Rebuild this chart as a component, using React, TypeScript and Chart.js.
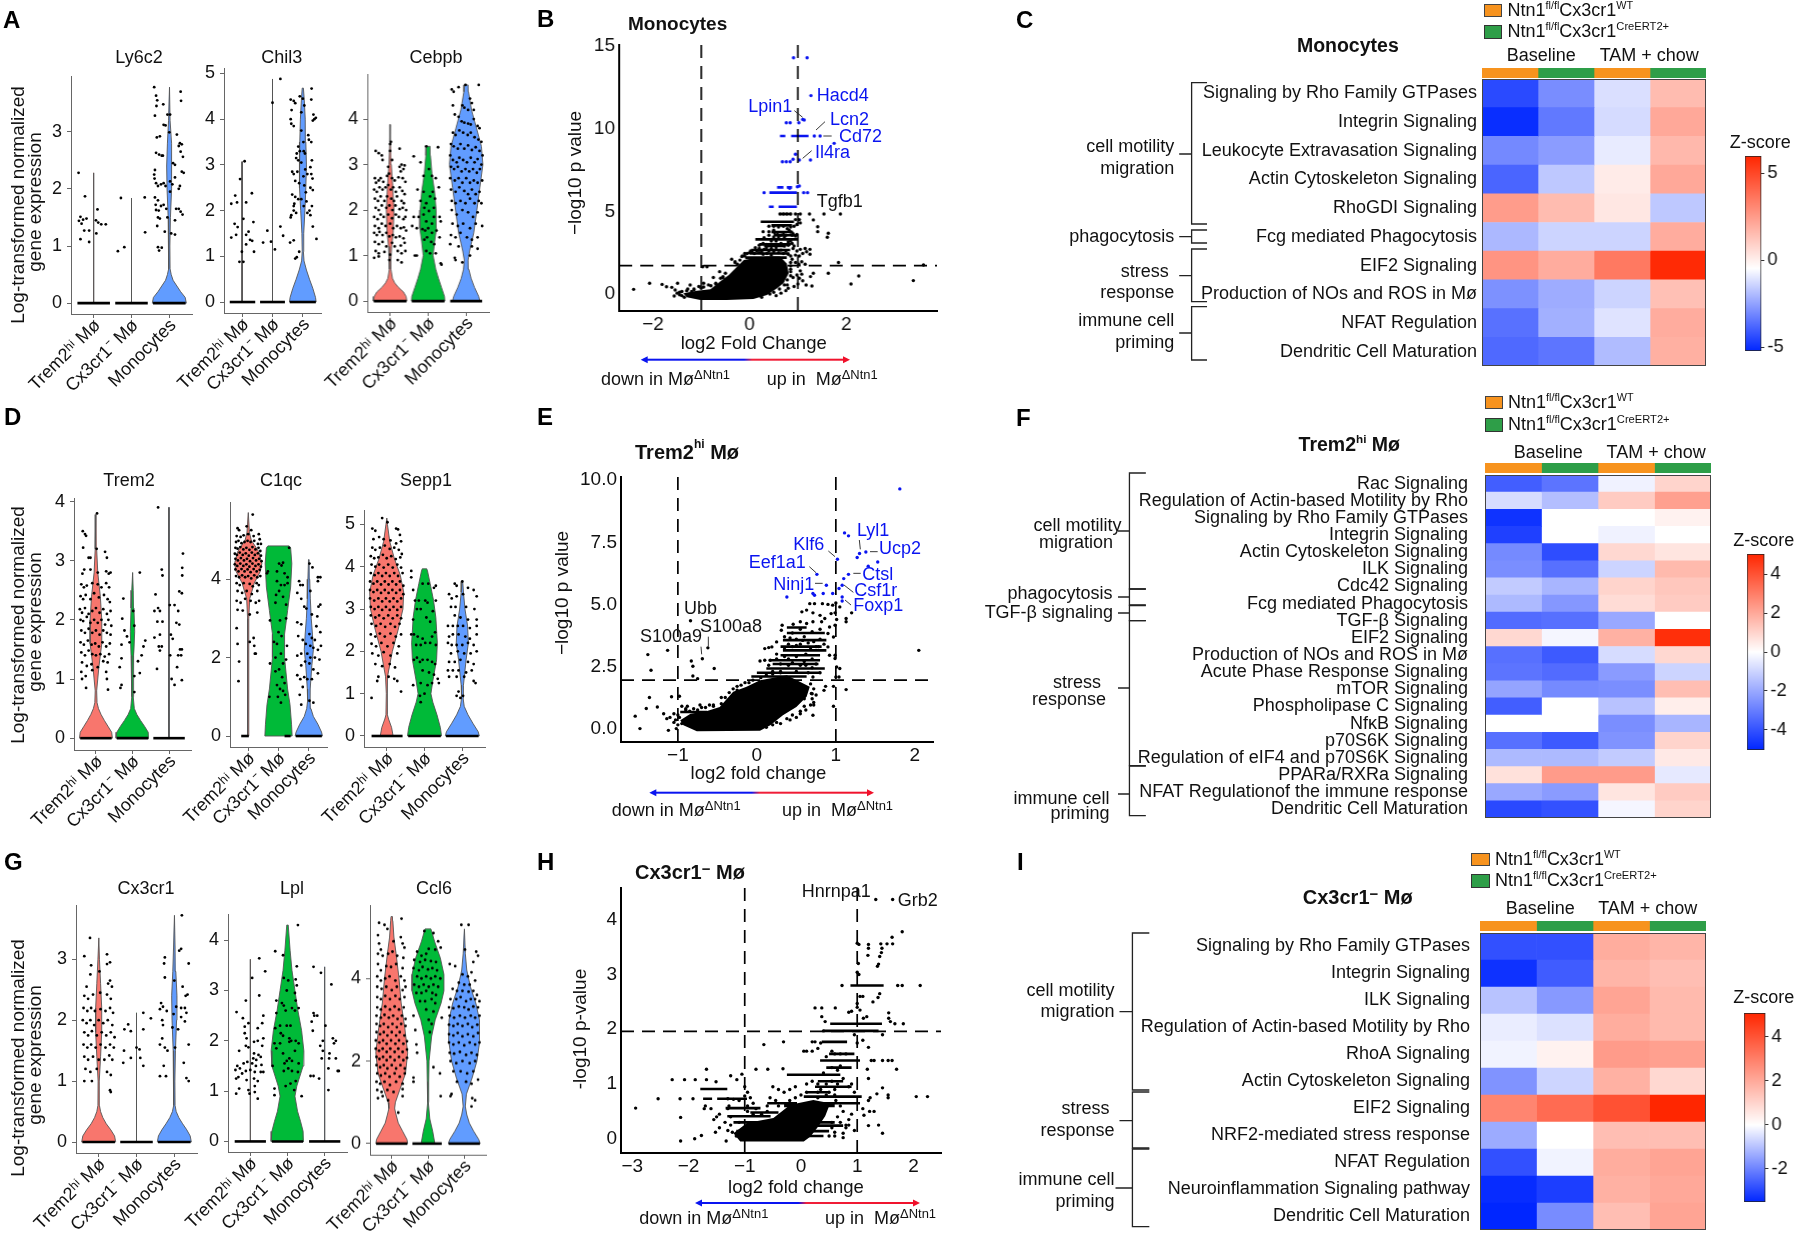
import React, { useEffect, useRef } from "react";
import { Chart, registerables } from "chart.js";
Chart.register(...registerables);

/* ---------- shared categories ---------- */
const violinGroups = ["Trem2ʰⁱ Mø", "Cx3cr1⁻ Mø", "Monocytes"];
const violinColors = ["#F8766D", "#00BA38", "#619CFF"];

/* ---------- violin outlines: y value, half width ---------- */
const ly6c2Spike1 = [0, .008, 2.28, .008];
const ly6c2Spike2 = [0, .008, 1.84, .008];
const ly6c2Mono = [0, .45, .1, .42, .2, .3, .3, .2, .4, .1, .5, .05, .6, .02, 1, .015, 1.5, .03, 2, .06, 2.4, .07, 2.8, .05, 3.2, .02, 3.78, .005];
const chil3Spike1 = [0, .008, 3.07, .008];
const chil3Spike2 = [0, .008, 4.88, .008];
const chil3Mono = [0, .44, .1, .42, .3, .33, .5, .22, .7, .12, .9, .04, 1.1, .02, 1.5, .03, 2, .07, 2.5, .1, 3, .12, 3.5, .1, 4, .08, 4.4, .05, 4.68, .02];
const cebpbT = [0, .44, .1, .42, .2, .35, .3, .22, .4, .12, .5, .06, .7, .02, .9, .02, 1.2, .04, 1.5, .08, 2, .1, 2.5, .07, 3, .03, 3.5, .01, 3.88, .005];
const cebpbC = [0, .44, .1, .43, .3, .35, .5, .27, .7, .2, 1, .13, 1.3, .17, 1.6, .22, 2, .21, 2.4, .17, 2.8, .1, 3.2, .06, 3.4, .05];
const cebpbM = [0, .36, .1, .33, .3, .22, .5, .13, .7, .07, .9, .05, 1.1, .09, 1.5, .2, 2, .28, 2.5, .36, 3, .44, 3.4, .4, 3.8, .27, 4.2, .14, 4.6, .06, 4.75, .05];
const trem2T = [0, .45, .1, .43, .2, .33, .3, .23, .4, .14, .5, .07, .6, .03, .8, .02, 1.2, .08, 1.6, .16, 2, .16, 2.4, .12, 2.8, .05, 3.2, .02, 3.78, .004];
const trem2C = [0, .45, .1, .43, .2, .33, .3, .22, .4, .12, .5, .05, .7, .02, 1, .02, 1.4, .04, 1.8, .06, 2.2, .04, 2.5, .02, 2.8, .004];
const trem2Spike = [0, .008, 3.9, .008];
const c1qcT = [0, .02, 3, .02, 3.5, .05, 3.9, .2, 4.2, .4, 4.4, .45, 4.7, .35, 5, .1, 5.2, .04, 5.7, .004];
const c1qcC = [0, .45, .3, .43, .8, .38, 1.2, .3, 2, .2, 2.6, .2, 3.2, .3, 3.8, .4, 4.4, .44, 4.8, .4, 4.85, .35];
const c1qcM = [0, .45, .1, .42, .3, .3, .5, .15, .7, .07, .9, .04, 1.2, .05, 1.8, .1, 2.2, .15, 2.6, .12, 3, .08, 3.5, .05, 4, .03, 4.5, .01];
const sepp1T = [0, .17, .2, .13, .4, .05, .5, .02, 1, .01, 1.4, .03, 2, .15, 2.5, .3, 3, .43, 3.4, .45, 3.8, .36, 4.2, .2, 4.6, .08, 5, .02, 5.15, .004];
const sepp1C = [0, .45, .2, .42, .5, .33, .8, .22, 1, .17, 1.3, .22, 1.8, .32, 2.2, .34, 2.8, .3, 3.2, .24, 3.6, .15, 3.9, .08, 3.95, .06];
const sepp1M = [0, .45, .1, .42, .3, .28, .5, .15, .7, .05, .9, .02, 1.2, .03, 1.8, .1, 2.2, .16, 2.6, .14, 3, .07, 3.4, .03, 3.65, .01];
const cx3T = [0, .45, .1, .42, .2, .32, .3, .2, .4, .11, .5, .05, .6, .02, 1, .015, 1.4, .05, 1.8, .08, 2.2, .08, 2.6, .05, 3, .02, 3.35, .004];
const cx3Spike = [0, .008, 2.12, .008];
const cx3M = [0, .45, .1, .42, .2, .33, .3, .22, .4, .12, .5, .05, .6, .02, 1, .015, 1.5, .03, 2, .06, 2.4, .07, 2.8, .04, 3.2, .02, 3.72, .004];
const lplSpike1 = [0, .008, 3.62, .008];
const lplC = [0, .44, .2, .42, .4, .35, .6, .27, .9, .2, 1.1, .25, 1.5, .42, 1.8, .44, 2.2, .38, 2.6, .28, 3, .2, 3.4, .12, 3.8, .07, 4.3, .02];
const lplSpike3 = [0, .008, 3.47, .008];
const ccl6T = [0, .44, .1, .42, .3, .3, .5, .18, .7, .12, .85, .08, 1, .1, 1.3, .22, 1.7, .38, 2.2, .44, 2.8, .36, 3.4, .26, 4, .2, 4.6, .12, 5, .06, 5.4, .03, 5.5, .02];
const ccl6C = [0, .19, .3, .13, .6, .05, 1, .01, 1.5, .02, 2, .03, 2.6, .1, 3, .2, 3.4, .36, 3.7, .44, 4.1, .44, 4.5, .34, 4.9, .18, 5.15, .1, 5.2, .08];
const ccl6M = [0, .44, .1, .4, .3, .26, .5, .14, .7, .07, .9, .03, 1.2, .06, 1.6, .22, 2, .35, 2.5, .43, 3, .42, 3.4, .32, 3.8, .17, 4.2, .07, 4.6, .03, 5.2, .005];

/* ---------- violin jitter dots: x offset from the category, value ---------- */
const ly6c2Dots1 = [-.4,2.28,-.23,1.87,-.35,1.51,-.28,1.46,-.39,1.44,-.19,1.48,-.32,1.39,-.35,1.12,-.25,1.27,-.12,1.27,-.12,1.07,.1,1.64,.06,1.45,.12,1.41,.2,1.38,.32,1.38,.07,1.22];
const ly6c2Dots2 = [-.28,1.84,.35,1.85,.36,1.24,-.36,.91,-.19,.98];
const ly6c2Dots3 = [-.4,3.78,-.35,3.63,-.32,3.55,-.34,3.45,.3,3.7,.31,3.54,-.16,3.48,-.38,3.28,-.05,3.3,.02,3.3,-.15,3.12,-.1,3.11,0,2.99,.2,2.95,.28,2.8,.33,2.78,-.25,2.92,-.33,2.9,.25,2.75,.3,2.65,.36,2.56,-.35,2.63,-.27,2.6,-.2,2.58,-.17,2.58,.1,2.45,.15,2.42,-.38,2.33,-.4,2.25,-.39,2.18,-.35,2.1,-.3,2.05,-.22,2.08,-.15,2.1,-.1,2.05,.02,2.13,.08,2.08,.15,2.2,.28,2.05,.25,2,.33,2.3,.38,2.28,-.38,1.85,-.3,1.8,-.35,1.63,-.28,1.62,-.22,1.7,-.15,1.72,-.08,1.65,-.05,1.5,.18,1.65,.25,1.65,.3,1.6,.35,1.55,.15,1.45,-.3,1.5,-.25,1.48,-.12,1.25,.15,1.2,-.3,.98,-.27,.92,-.2,.97,-.32,1.35,-.36,1.72,.02,1.95,.05,1.22];
const chil3Dots1 = [.08,3.08,-.07,2.69,-.23,2.33,-.36,2.15,-.17,2.18,.32,2.38,.13,2.18,-.25,1.71,-.15,1.64,.04,1.82,.37,1.75,.21,1.54,.13,1.47,-.36,1.41,-.2,1.47,.26,1.36,.33,1.34,.13,1.26,-.01,1.1,.39,1.1,-.09,.88,.04,.88];
const chil3Dots2 = [.26,4.88,0,4.36,-.17,1.56,-.31,1.3,-.05,1.32,.08,1.15,.26,1.65,.35,1.45];
const chil3Dots3 = [.29,4.67,.28,4.43,-.4,4.43,-.3,4.4,-.25,4.35,-.1,4.5,0,4.45,.05,4.3,-.37,4.2,-.05,4.15,.35,4.1,.38,4,.33,3.97,.43,4.03,-.4,4,-.38,3.9,-.3,3.85,-.05,3.75,.18,3.65,.2,3.55,.28,3.5,.02,3.5,-.15,3.4,-.2,3.25,-.1,3.3,.03,3.3,.07,3.25,.3,3.1,-.22,3.15,-.15,3.1,-.05,3.05,.25,2.95,.08,2.9,-.35,2.85,-.3,2.8,-.25,2.65,-.18,2.85,.02,2.75,.15,2.8,.28,2.8,.32,2.7,-.12,2.6,.05,2.55,.25,2.5,.33,2.45,-.35,2.35,-.25,2.3,-.15,2.25,-.28,2.15,-.3,2.1,.03,2.1,.22,2,.3,2.1,-.38,1.9,-.3,2,-.22,1.95,.33,1.65,.45,1.38,-.42,1.3,-.3,1.35,-.12,1.1,-.25,.95,-.2,.98,.1,2.4,-.05,2.25,.12,2.2,-.4,1.85,.15,1.95,.25,1.9];
const cebpbDots1 = [-.38,3.3,-.3,3.25,-.22,3.2,-.2,3.1,0,3.45,0,3.3,.02,3.5,.25,3.35,.3,3,.38,2.98,.35,2.9,.28,2.85,.25,2.95,.05,3.1,-.05,2.95,-.4,2.7,-.37,2.6,-.3,2.65,-.25,2.7,-.18,2.62,-.08,2.75,-.03,2.8,.05,2.7,.12,2.65,.22,2.72,.33,2.7,.4,2.62,-.42,2.45,-.35,2.4,-.28,2.5,-.2,2.45,-.12,2.5,-.05,2.55,.02,2.45,.08,2.5,.15,2.4,.25,2.5,.32,2.42,.38,2.35,-.4,2.25,-.32,2.2,-.25,2.3,-.15,2.2,-.08,2.3,.03,2.25,.1,2.2,.18,2.3,.3,2.2,.36,2.15,-.38,2.05,-.3,2,-.22,2.1,-.1,2.05,-.02,2.1,.06,2,.14,2.1,.25,2.02,.33,2.05,.42,2,-.42,1.85,-.33,1.8,-.25,1.9,-.17,1.85,-.05,1.9,.05,1.82,.15,1.9,.23,1.85,.35,1.8,.4,1.85,-.4,1.65,-.3,1.6,-.22,1.7,-.12,1.65,0,1.7,.08,1.6,.18,1.65,.28,1.6,.36,1.62,.42,1.55,-.42,1.5,-.35,1.45,-.28,1.52,-.2,1.45,-.1,1.5,-.02,1.42,.07,1.45,.15,1.4,.25,1.42,.35,1.38,-.4,1.3,-.3,1.25,-.2,1.3,-.1,1.2,.05,1.28,.12,1.2,.28,1.22,.38,1.28,-.38,1.1,-.3,1.05,-.15,1.08,0,1.02,.2,1.1,.3,1.05,.4,1.1,-.42,.95,-.3,.98,-.02,.9,.2,.9,.3,.85];
const cebpbDots2 = [-.38,3.18,-.05,3.4,.26,3.38,-.2,3.05,.02,2.9,-.12,2.75,.1,2.75,.2,2.7,.28,2.5,-.28,2.45,-.12,2.4,.12,2.4,.05,2.3,-.2,2.2,-.05,2.15,.18,2.25,.15,2.05,-.1,2.05,.02,1.98,-.38,1.85,-.25,1.85,-.12,1.9,.15,1.85,.3,1.85,.33,1.75,-.42,1.65,-.3,1.6,-.15,1.58,-.08,1.55,0,1.6,.1,1.5,.22,1.55,.3,1.4,-.1,1.35,-.03,1.4,.08,1.3,.16,1.25,.2,1.05,.05,1.05,-.05,1.1,-.3,1,-.35,1,.33,.83,.35,.8,.1,1.7,-.05,1.75];
const cebpbDots3 = [-.38,4.65,-.33,4.6,-.35,4.3,-.02,4.75,.33,4.75,.1,4.45,.15,4.35,-.2,4.7,-.1,4.3,-.05,4.25,.05,4.2,.2,4.2,-.3,4.1,-.2,4.05,-.12,3.95,-.05,3.92,.05,3.9,.12,3.88,.2,4,.3,3.85,.35,3.8,-.35,3.7,-.28,3.65,-.18,3.75,-.08,3.7,.04,3.65,.12,3.7,.22,3.6,.32,3.55,.4,3.5,-.4,3.45,-.33,3.4,-.22,3.35,-.15,3.45,-.05,3.35,.05,3.42,.15,3.32,.25,3.38,.35,3.3,.43,3.2,-.42,3.2,-.35,3.1,-.25,3.05,-.18,3.15,-.08,3.1,.02,3.05,.12,3.15,.22,3.05,.3,3.12,.4,3,-.4,2.95,-.32,2.9,-.22,2.95,-.12,2.85,-.02,2.9,.08,2.85,.18,2.9,.28,2.82,.36,2.9,-.42,2.7,-.3,2.65,-.2,2.7,-.1,2.6,0,2.7,.1,2.6,.2,2.65,.3,2.6,.42,2.65,-.4,2.45,-.28,2.4,-.18,2.5,-.05,2.42,.05,2.35,.15,2.45,.25,2.35,.35,2.4,-.38,2.2,-.28,2.15,-.15,2.2,-.02,2.15,.1,2.25,.22,2.15,.33,2.2,.4,2.15,-.38,2,-.25,1.9,-.1,2,.05,1.95,.18,1.85,.3,1.95,.42,1.65,-.36,1.7,-.22,1.65,-.08,1.7,.1,1.6,.25,1.7,-.4,1.45,-.28,1.4,-.15,1.5,.02,1.4,.15,1.35,.3,1.4,-.42,1.25,-.2,1.2,.15,1.2,.3,1.15,-.3,.95,-.28,.9,-.1,.85,.1,1];
const trem2Dots1 = [-.36,3.5,-.3,3.45,-.27,3.42,-.35,3.22,.25,3.15,.3,3.05,-.15,3.05,-.2,3.05,.03,3.8,.02,3.2,-.32,2.85,-.37,2.78,-.15,2.85,.05,2.8,.28,2.82,.35,2.78,.4,2.8,-.4,2.6,-.33,2.55,-.25,2.58,-.1,2.62,.05,2.6,.15,2.55,.28,2.62,.36,2.55,-.42,2.4,-.35,2.35,-.28,2.42,-.15,2.35,-.05,2.45,.08,2.38,.22,2.42,.32,2.35,.38,2.3,-.44,2.18,-.38,2.12,-.3,2.2,-.2,2.1,-.1,2.15,0,2.2,.1,2.12,.2,2.18,.3,2.1,.4,2.15,-.42,2,-.35,1.98,-.25,2.05,-.15,1.95,-.05,2,.05,1.95,.15,2,.25,1.92,.34,2,.42,1.9,-.4,1.82,-.3,1.78,-.2,1.85,-.1,1.78,0,1.82,.1,1.75,.2,1.82,.3,1.78,.4,1.75,-.42,1.62,-.33,1.58,-.22,1.65,-.12,1.58,-.02,1.6,.08,1.55,.18,1.62,.28,1.55,.38,1.6,-.4,1.45,-.3,1.4,-.2,1.48,-.1,1.42,0,1.4,.12,1.42,.24,1.38,.36,1.42,-.38,1.28,-.25,1.22,-.12,1.25,.05,1.2,.2,1.3,.32,1.28,-.4,1.12,-.28,1.05,-.1,1.15,.28,1.12,.3,1,.33,.82,-.27,.85,-.38,1];
const trem2Dots2 = [.2,2.8,-.25,2.36,-.28,2.02,-.22,1.82,-.15,1.72,-.3,1.58,-.08,1.62,.35,1.65,.3,1.55,.25,1.4,.02,2.15,.05,1.9,-.35,1.2,-.3,1.35,.15,1.3,.2,1.1,.05,1.05,-.33,.85,-.3,.9,.05,.78];
const trem2Dots3 = [-.3,3.9,-.2,2.85,-.18,2.75,.38,3.12,.36,2.88,.36,2.75,-.37,2.43,.35,2.45,.28,2.48,-.4,2.15,-.3,2.2,-.25,2.15,.02,2.25,.15,2.25,.25,2.15,-.32,1.97,-.18,1.97,.2,1.95,.28,1.92,-.4,1.7,-.25,1.75,.05,1.75,.1,1.68,.3,1.5,.35,1.5,-.28,1.55,-.2,1.55,-.25,1.48,.03,1.4,.25,1.4,.33,1.4,-.33,1.17,.22,1.2,.07,1,.15,.9,.35,.98];
const c1qcDots1 = [.15,5.65,-.35,5.3,-.3,5.25,-.05,5.35,.1,5.25,-.38,5.1,-.25,5.08,-.15,5.12,0,5.15,.18,5.1,.35,5.15,.38,5.02,-.4,4.95,-.32,4.98,-.22,4.92,-.12,4.95,-.02,4.98,.08,4.95,.2,4.98,.32,4.9,.42,4.9,-.42,4.8,-.35,4.78,-.26,4.82,-.16,4.76,-.06,4.8,.04,4.75,.14,4.82,.24,4.76,.34,4.8,.4,4.72,-.44,4.65,-.37,4.62,-.28,4.68,-.18,4.62,-.08,4.66,.02,4.6,.12,4.68,.22,4.62,.32,4.66,.42,4.6,-.42,4.52,-.34,4.48,-.24,4.54,-.14,4.48,-.04,4.52,.06,4.46,.16,4.54,.26,4.48,.36,4.52,.44,4.46,-.44,4.38,-.36,4.34,-.26,4.4,-.16,4.34,-.06,4.38,.04,4.32,.14,4.4,.24,4.34,.34,4.38,.42,4.32,-.42,4.25,-.32,4.2,-.22,4.26,-.12,4.2,-.02,4.25,.08,4.18,.18,4.26,.28,4.2,.38,4.24,-.4,4.08,-.3,4.05,-.2,4.1,-.1,4.05,0,4.08,.1,4.02,.2,4.1,.3,4.05,.4,4.08,-.38,3.9,-.28,3.85,-.15,3.9,.05,3.88,.15,3.82,.28,3.9,.35,3.85,-.35,3.7,-.2,3.65,-.05,3.7,.12,3.62,.3,3.7,-.38,3.45,-.25,3.4,-.1,3.5,.08,3.45,.25,3.4,.36,3.45,-.35,3.22,-.18,3.2,.05,3.1,.3,3.15,-.38,2.75,.18,2.5,.05,2.4,.2,2.3,-.35,2.35,-.3,1.9,.22,2.1,.25,2.1,-.32,1.4];
const c1qcDots2 = [.35,4.8,.02,4.4,.1,4.35,.15,4.42,-.35,4.2,-.38,4.15,-.05,4.2,.2,4.15,.3,4.05,-.05,3.95,.08,3.85,.2,3.85,.3,3.9,-.08,3.6,.02,3.7,.15,3.55,-.1,3.4,.25,3.35,-.28,2.95,.05,2.95,.25,3,0,2.65,.1,2.55,-.05,2.35,-.15,2.4,.28,2.3,.08,2.1,-.1,2,.25,1.95,.15,1.85,-.28,1.85,.02,1.7,-.1,1.65,.12,1.5,.2,1.35,-.05,1.3,.05,1.2,.15,1.15,.22,1.05,-.02,1,-.3,1,.08,.85];
const c1qcDots3 = [.02,4.4,.12,4.3,.3,4.05,.38,4.05,.3,3.95,-.32,3.95,-.28,3.85,-.2,3.85,-.38,3.65,.05,3.7,.38,3.35,.32,3.3,-.25,3.5,-.15,3.3,-.08,3.25,.1,3.1,.28,3.05,-.38,2.9,-.25,2.85,.25,2.8,.38,2.65,.02,2.6,.1,2.5,.2,2.45,-.35,2.55,-.2,2.45,-.1,2.35,.05,2.3,.15,2.25,.3,2.2,.4,2.3,-.38,2.05,-.25,2.1,-.05,2.1,.05,2,.2,2,.35,1.95,-.12,1.9,-.25,1.8,.02,1.85,.15,1.7,.3,1.6,-.38,1.55,-.28,1.45,-.15,1.5,-.05,1.45,.1,1.45,-.3,1.05,-.2,1.25,.02,.9,-.25,.8,.15,.85];
const sepp1Dots1 = [-.12,5.15,.02,5.05,-.38,4.9,-.3,4.85,.25,4.9,.3,4.88,.35,4.75,-.35,4.65,-.2,4.7,-.08,4.65,.1,4.62,.25,4.55,.38,4.6,-.38,4.45,-.3,4.4,-.18,4.45,-.05,4.5,.08,4.42,.2,4.45,.32,4.4,.4,4.3,-.42,4.25,-.33,4.2,-.22,4.22,-.1,4.28,0,4.2,.12,4.25,.24,4.18,.36,4.22,-.4,4.05,-.3,4,-.2,4.05,-.08,3.98,.04,4.05,.16,3.98,.28,4.05,.38,3.98,-.42,3.85,-.32,3.8,-.22,3.85,-.12,3.78,-.02,3.85,.08,3.78,.2,3.85,.3,3.78,.42,3.85,-.44,3.65,-.35,3.6,-.25,3.65,-.15,3.58,-.05,3.65,.05,3.58,.15,3.65,.25,3.58,.35,3.65,.44,3.55,-.44,3.45,-.35,3.4,-.25,3.45,-.15,3.38,-.05,3.45,.05,3.38,.15,3.45,.25,3.38,.35,3.45,.44,3.35,-.44,3.25,-.33,3.2,-.22,3.25,-.12,3.18,-.02,3.25,.08,3.18,.18,3.25,.28,3.18,.38,3.25,-.42,3.05,-.32,3,-.22,3.05,-.12,2.98,-.02,3.05,.08,2.98,.18,3.05,.28,2.98,.38,3.05,-.42,2.85,-.3,2.8,-.2,2.85,-.08,2.78,.04,2.85,.16,2.78,.28,2.85,.38,2.78,-.4,2.65,-.28,2.6,-.16,2.65,-.04,2.58,.1,2.65,.22,2.58,.34,2.65,-.42,2.4,-.3,2.35,-.18,2.42,-.05,2.35,.1,2.42,.24,2.35,.38,2.4,-.4,2.18,-.28,2.12,-.14,2.2,.02,2.12,.18,2.2,.32,2.12,-.38,1.95,-.22,1.9,-.08,1.98,.1,1.9,.28,1.95,-.3,1.7,-.12,1.65,.08,1.7,.22,1.62,-.22,1.4,.2,1.35,.05,1.4,-.25,1.3,.28,1.3,.38,1.05,-.4,.9];
const sepp1Dots2 = [-.35,3.9,-.35,3.75,-.3,3.45,-.05,3.6,.1,3.6,.25,3.5,.3,3.55,-.25,3.2,-.15,3.2,.02,3.2,.08,3.15,.3,3.2,-.2,3,-.1,3,.22,2.95,-.3,2.75,.05,2.8,.15,2.7,-.35,2.4,-.28,2.4,-.18,2.35,-.05,2.3,.2,2.35,.28,2.45,-.22,2.15,-.1,2.15,.02,2.2,.15,2.2,.3,2.15,-.28,1.8,-.2,1.85,-.12,1.75,-.05,1.8,.08,1.8,.2,1.75,.28,1.7,-.05,1.55,.12,1.5,.25,1.45,-.3,1.2,-.1,1.25,.08,1.2,.2,1.25,.35,1.35,.38,1.25,-.12,.95,-.1,.8,0,1];
const sepp1Dots3 = [-.2,3.6,-.15,3.55,0,3.65,.15,3.5,.3,3.45,-.35,3.35,-.28,3.25,-.15,3.3,.02,3.35,.38,3.3,-.3,3.05,-.18,3.05,.1,3.05,.32,3,-.2,2.85,-.05,2.8,.15,2.75,.38,2.75,-.38,2.6,-.25,2.6,-.12,2.6,.02,2.6,.2,2.55,.38,2.6,-.35,2.35,-.25,2.4,-.1,2.4,.08,2.35,.2,2.3,.38,2.4,-.38,2.2,-.28,2.15,-.15,2.15,0,2.15,.15,2.2,.3,2.15,-.3,1.95,-.12,2,.05,1.95,.22,1.95,.38,2,-.35,1.75,-.2,1.75,-.05,1.8,.15,1.75,.3,1.7,-.38,1.55,-.25,1.55,-.1,1.55,.1,1.5,.25,1.55,-.35,1.4,-.15,1.4,.05,1.4,.3,1.3,.35,1.25,-.1,1.05,-.15,.95,.02,.95,-.05,.9];
const cx3Dots1 = [-.23,3.35,-.38,3.05,.22,3.08,.3,2.95,.22,2.92,-.2,2.9,-.22,2.75,-.32,2.55,.02,2.8,.3,2.65,.25,2.6,.35,2.55,-.38,2.4,-.28,2.35,-.15,2.42,.04,2.45,.22,2.42,.32,2.35,-.4,2.2,-.3,2.15,-.2,2.2,-.1,2.15,.05,2.18,.18,2.15,.3,2.2,.38,2.12,-.42,2,-.32,1.95,-.22,2,-.12,1.92,0,2,.12,1.95,.24,2,.36,1.92,-.38,1.8,-.28,1.75,-.18,1.82,-.05,1.75,.08,1.8,.2,1.75,.32,1.8,.42,1.72,-.4,1.6,-.3,1.55,-.2,1.6,-.08,1.55,.05,1.6,.18,1.55,.3,1.6,.4,1.55,-.38,1.4,-.28,1.35,-.15,1.4,0,1.35,.15,1.35,.28,1.42,.36,1.35,-.35,1.2,-.22,1.15,-.05,1.2,.22,1.15,.32,1.1,-.38,1,-.18,1,.3,.85,.32,.82];
const cx3Dots2 = [-.32,1.85,-.22,1.93,-.15,1.82,.18,2.12,.38,2.03,.18,1.85,0,1.55,.08,1.52,.1,1.38,-.33,1.5,-.35,1.3,-.15,1.38,.18,1.25];
const cx3Dots3 = [.2,3.72,.18,3.17,.13,3.14,-.25,3.03,-.27,2.93,.38,2.93,-.25,2.7,0,2.65,.22,2.55,.3,2.4,.35,2.42,-.35,2.28,-.3,2.22,-.38,2.18,-.2,2.15,.05,2.22,.18,2.2,.28,2.2,.32,2.12,-.32,2,-.3,1.92,-.02,2.1,.18,2.05,.28,1.98,.38,1.6,-.32,1.7,-.05,1.88,.1,1.85,-.38,1.6,-.25,1.55,-.18,1.5,-.28,1.25,-.38,1.08,-.22,1.08,.32,1.05,.38,1,.25,1.3,.02,1.55];
const lplDots1 = [.24,3.64,.05,3.25,.4,3.38,-.12,2.8,.24,2.9,-.37,2.57,-.2,2.45,.35,2.5,.32,2.35,-.05,2.35,-.15,2.28,.2,2.25,-.15,2.15,-.1,2.05,.35,2.05,.1,1.98,.2,2,-.12,1.9,-.05,1.87,.32,1.9,.1,1.75,.22,1.72,-.3,1.8,.08,1.65,.16,1.62,.28,1.68,-.35,1.5,-.28,1.45,-.18,1.55,-.08,1.58,.05,1.55,.15,1.5,.3,1.52,-.4,1.42,-.32,1.28,-.22,1.35,-.12,1.4,0,1.42,.12,1.38,.28,1.38,.35,1.38,-.38,1.25,-.1,1.22,.1,1.25,.2,1.2,-.38,.95,-.3,1.05,-.05,1.02,-.02,.95,.12,.98,.2,.85,.12,1.1];
const lplDots2 = [.28,4.3,-.33,3.78,-.12,3.7,.25,3.48,-.1,3.25,.02,3.2,.22,3.22,.25,3.1,-.02,3,.2,2.95,.22,2.8,-.3,2.8,-.15,2.75,-.1,2.7,.12,2.65,.3,2.65,-.3,2.55,-.05,2.6,.2,2.6,-.33,2.25,-.2,2.3,-.02,2.3,.08,2.3,-.18,2.15,-.12,2.1,.05,2.05,.22,2,.1,2,-.35,1.95,-.2,1.95,.05,1.98,.3,1.95,-.3,1.85,-.12,1.75,.05,1.65,.2,1.8,.12,1.6,-.08,1.55,-.02,1.6,.3,1.55,-.4,1.5,-.1,1.4,.02,1.45,.12,1.4,.22,1.2,.28,1.38,-.35,1.05,-.05,1.1,.08,1.15,.18,1.02,.38,.9,-.35,.92];
const lplDots3 = [-.3,3.47,-.1,3.35,.18,3.12,-.3,2.55,-.35,2.38,-.28,2.5,-.32,2.2,.02,2.3,-.2,2.5,.22,2.05,.3,2,.25,1.95,-.05,2,-.12,1.9,-.05,1.8,.13,1.75,.3,1.65,-.08,1.65,.12,1.65,-.15,1.25,-.3,1.3,-.38,1.3,.38,1.4,.35,1.4,.1,1.45,.1,1.02];
const ccl6Dots1 = [-.35,5.35,-.2,5.3,.27,5.45,-.12,5.2,.25,5,.3,4.85,-.38,5.05,-.35,4.85,-.3,4.7,.05,4.9,.35,4.75,-.38,4.6,-.25,4.55,-.1,4.6,.02,4.65,.15,4.55,.32,4.5,-.38,4.35,-.3,4.2,-.15,4.3,-.02,4.28,.12,4.35,.3,4.25,-.4,4.05,-.3,3.95,-.18,4,-.06,4.05,.1,3.95,.25,4.05,.35,3.95,-.4,3.8,-.28,3.75,-.15,3.8,0,3.72,.14,3.8,.3,3.72,.38,3.8,-.4,3.55,-.3,3.5,-.18,3.58,-.05,3.5,.1,3.58,.22,3.5,.35,3.55,-.4,3.3,-.3,3.25,-.18,3.32,-.05,3.25,.08,3.32,.2,3.25,.33,3.3,-.42,3.1,-.3,3.05,-.2,3.12,-.08,3.05,.04,3.1,.16,3.02,.28,3.1,.38,3.02,-.42,2.9,-.32,2.85,-.22,2.9,-.1,2.82,.02,2.9,.14,2.82,.26,2.9,.38,2.85,-.42,2.7,-.32,2.65,-.22,2.7,-.12,2.62,0,2.7,.12,2.62,.22,2.7,.35,2.62,-.44,2.5,-.34,2.45,-.24,2.5,-.14,2.42,-.02,2.5,.1,2.42,.2,2.5,.32,2.42,.42,2.48,-.44,2.3,-.35,2.25,-.25,2.3,-.14,2.22,-.04,2.3,.08,2.22,.18,2.3,.3,2.22,.42,2.28,-.42,2.1,-.34,2.05,-.24,2.1,-.14,2.02,-.04,2.1,.08,2.02,.2,2.1,.32,2.02,.42,2.08,-.42,1.9,-.32,1.85,-.22,1.9,-.12,1.82,0,1.9,.12,1.82,.24,1.9,.36,1.82,-.4,1.7,-.3,1.65,-.18,1.7,-.06,1.62,.08,1.7,.22,1.62,.36,1.7,-.42,1.5,-.32,1.45,-.2,1.5,-.05,1.42,.12,1.5,.3,1.45,-.4,1.3,-.28,1.25,-.12,1.3,.05,1.25,.3,1.32,-.38,1.1,-.25,1.15,-.1,1.05,.3,1.15,.18,.75];
const ccl6Dots2 = [-.1,5.15,.15,5.1,.28,4.9,-.3,4.65,-.18,4.55,-.05,4.6,.02,4.72,.2,4.7,.35,4.75,-.38,4.45,-.22,4.4,-.08,4.45,.08,4.42,.22,4.4,-.4,4.25,-.25,4.2,-.15,4.28,0,4.22,.12,4.25,.25,4.2,-.3,4.05,-.18,4,-.05,4.05,.08,4,.2,4.05,.34,4,-.38,3.85,-.25,3.8,-.12,3.85,.02,3.8,.15,3.85,.28,3.8,-.32,3.65,-.18,3.65,-.05,3.7,.12,3.65,.22,3.6,-.22,3.45,-.08,3.45,.1,3.5,.2,3.4,-.05,3.25,.15,3.2,-.4,3.1,.38,3.05,.02,3,.1,2.9,-.35,2.75,.05,2.7,-.32,2.4,-.3,2.2,.15,1.85,.33,1.7,-.4,1.6,-.4,1.5,.35,1.15];
const ccl6Dots3 = [-.08,5.3,.12,5.3,.02,4.7,.33,4.65,.38,4.55,-.4,4.35,-.25,4.3,.25,4.4,-.05,4.1,.1,4.05,.2,4.15,-.15,3.9,0,3.85,.15,3.85,.3,3.95,-.32,3.75,-.2,3.7,-.05,3.7,.12,3.68,.25,3.7,.35,3.6,-.38,3.5,-.22,3.5,-.1,3.55,.05,3.45,.18,3.5,.3,3.5,.42,3.45,-.42,3.3,-.3,3.28,-.15,3.32,0,3.3,.12,3.25,.25,3.32,.38,3.3,-.4,3.1,-.28,3.05,-.12,3.1,.02,3.05,.18,3.1,.3,3.05,.42,3.1,-.42,2.88,-.3,2.85,-.18,2.9,-.05,2.85,.1,2.9,.22,2.82,.36,2.88,-.42,2.65,-.3,2.62,-.18,2.68,-.05,2.6,.1,2.65,.25,2.6,.38,2.68,-.42,2.45,-.3,2.4,-.15,2.45,0,2.38,.15,2.45,.3,2.4,.42,2.45,-.4,2.2,-.28,2.18,-.12,2.22,.05,2.15,.2,2.2,.35,2.15,-.38,2,-.22,1.95,-.05,2,.15,1.95,.3,2,-.3,1.75,-.1,1.75,.08,1.7,.25,1.75,-.2,1.5,.05,1.5,.2,1.45,.38,1.55,-.35,1.2,-.38,1.15,.22,1.1,.3,1.05,.2,.9];

/* zero-expression runs: first and last x offset per category */
const ly6c2Zero = [-.43, .43, -.43, .43, -.43, .43];
const chil3Zero = [-.41, .43, -.41, .41, -.43, .43];
const cebpbZero = [-.43, .43, -.43, .43, -.42, .42];
const trem2Zero = [-.43, .43, -.43, .43, -.43, .43];
const c1qcZero = [-.23, .02, .2, .4, -.43, .43];
const sepp1Zero = [-.4, .42, -.43, .43, -.43, .43];
const cx3Zero = [-.43, .43, -.43, .43, -.43, .43];
const lplZero = [-.42, .42, -.42, .42, -.42, .42];
const ccl6Zero = [-.43, .43, -.43, .38, -.43, .43];

/* ---------- volcano data ---------- */
const monoBlue = [.91,14.29,1.19,14.29,1.27,12,1.1,10.56,1.13,10.52,1.02,10.36,.76,10.36,.84,10.36,1.34,9.56,1.46,9.56,1.75,9.11,.95,8.45,.9,8.15,1.03,8.1,1.26,8.1,.68,8,.76,8,.84,8,.99,6.49,1.03,6.53,.3,6.13,1.12,6.13,1.2,6.13,.83,6.39];
const monoBlueRuns = [9.56,.63,.74,9.56,.86,1.22,6.13,.41,.98,6.45,.57,.7,6.45,.77,.88,5.28,.4,.5,5.28,.6,.98];
const monoBlack = [1.24,4.84,1.54,4.84,1.88,4.84,1.32,4.48,1.41,4.07,1.41,3.77,1.63,3.67,1.61,3.43,1.84,1.9,3.6,1.75,1.63,1.25,2.26,1.09,2.1,.6,3.39,.81,1.32,1.25,1.26,1.05,1.17,.54,1.29,.48,-2.4,.28,-2.07,.65,-1.81,.58,-1.72,.44,-1.61,.4,-1.54,.24,-1.56,-.12,-1.49,.65,-1.23,.54,-.95,.65,-.62,1.35,-.97,1.65,-.88,1.65,-.37,2.1,-.16,2.26,.63,4.84,.7,4.84,.77,4.84,.85,4.84,.95,4.84,1.05,4.84,.95,4.5,1.03,4.5,1.05,4.3,.98,4.2,.28,3.77,.4,3.77,.5,3.85,.52,3.7,.58,3.6,.82,3.85,.85,3.75,.9,3.65,.88,3.55,.95,3.5,.98,3.6,.5,3.45,.72,3.45,.35,3,.42,2.95,.5,3,.55,2.85,.65,3.05,.72,2.9,.8,2.95,.88,3.05,.92,2.9,.9,2.75,.98,2.6,1.05,2.7,1.15,2.75,1.25,2.7,1.18,2.55,1.1,2.45,1.25,2.4,1.03,2.3,.95,2.35,.2,2.5,.28,2.4,.36,2.45,.45,2.35,.85,1.7,.95,1.9,1.02,1.8,1.08,1.95,1.15,1.8,1.05,1.4,1.08,1.2,.98,1.15,.9,1,1.03,.95,1.1,.8,1,.6,.92,.45,.8,.35,.75,.2,.65,.05,.55,-.1,.68,.75,.78,.55,.85,1.35,-.75,1,-.55,1,-.7,.65,-.85,.55,-1.05,.45,-1.15,.3,-1.2,.15,-1.28,.3,-1.4,.15,-1.45,-.05,-1.35,-.2,-.3,1.95,-.2,2.05,-.1,2.3,-.05,2.45,.02,2.6];
const monoFringe = [-.3,1.9,-.25,1.8,-.15,2.3,-.1,2.45,0,2.5,.05,2.55,.1,2.45,.15,2.6,.2,2.75,.25,2.55,.3,2.7,.35,2.8,.4,2.6,.45,2.75,.5,2.55,.55,2.7,.6,2.5,.65,2.65,.7,2.45,.75,2.6,.8,2.4,.85,2.3,.88,2.1,.85,1.9,.85,1.5,.85,1.1,.78,.85,.72,.55,.62,.3,.5,.1,.42,0,.25,-.2,.3,3.4,.4,3.55,.45,3.2,.55,3.2,.6,3.45,.65,3.55,.7,3.7,.75,3.55,.8,3.15,.85,3.2,.6,4.05,.7,4.1,.78,3.95,.85,4.05,.92,4.1,.4,4.1,.5,4.1,.28,3.05,.2,2.95,.12,2.8,-.5,1.25,-.55,1.05,-.6,.95,-.7,.6,-.8,.5,-.95,.42,-1,.35,-1.15,.25,-1.3,.2,-1.45,.1,-1.4,-.1,-1.5,.05];
const monoBlackRuns = [4.37,.23,.92,4.84,.63,.87,3.3,.12,1.01,2.66,.03,.84,2.2,-.09,.77,3,.2,.85,2.9,.3,.75,3.75,.45,.9,4.15,.45,.88,2.45,0,.82,3.55,.5,.95];
const monoCloud = [-1.37,.04,-1.09,.2,-.81,.28,-.61,.75,-.43,1.15,-.26,1.65,-.12,2.06,.08,2.16,.36,2.26,.63,2.26,.77,1.85,.81,1.25,.7,.65,.57,.34,.36,-.06,.08,-.3,-.47,-.36,-1.02,-.36,-1.3,-.2];

const trem2Blue = [1.81,9.65,1.11,7.88,1.16,7.76,1.27,6.89,1.3,7.05,1.38,7.11,1.53,6.71,1.41,6.54,1.02,6.82,.76,6.21,1.16,6.21,1.1,6.04,.88,5.77,1.08,5.77,1.04,5.64,.71,5.44,.73,5.37,.84,5.44,.96,5.44,.38,5.3,1.08,5.3,1.08,5.14];
const trem2Black = [-.84,4.34,-1.13,3.15,-1.38,2.98,-1.34,2.35,-.62,3.25,-.69,2.81,-.83,2.72,-.81,2.51,-.54,2.42,-.81,2.12,-.75,2.01,2.05,3.15,1.13,1.57,.97,1.7,.85,1.54,.87,1.7,.97,.9,.71,.54,-1.36,1.25,-1.08,1.28,-.98,1.3,-1.4,.81,-1.26,.87,-1.54,.5,-1.48,0,-1.12,-.07,-1.18,.6,-1.14,.4,-1.02,0,.69,1.41,.67,5.03,.73,5.03,.63,4.77,.57,4.7,.71,4.66,.83,5.03,.9,5,.96,4.97,1,5.06,1.05,4.9,.99,4.66,.94,4.63,.8,4.56,.86,4.43,.82,4.3,.71,4.3,.63,4.23,.55,4.3,.46,4.2,.32,4.16,.31,3.96,1.13,4.43,1.13,4.3,1.2,4.66,1.01,4.39,.99,4.16,.92,4.09,.97,3.69,.9,3.83,.25,3.49,.19,3.29,.1,3.22,.15,3.26,.9,3.29,.99,2.95,.92,2.95,.99,2.82,.04,2.72,.1,2.75,.17,2.75,1.01,2.48,1.05,2.42,1,2.08,1.04,2.08,.71,2.08,.25,3,.35,3.2,.45,3.3,.55,3.4,.4,2.8,.5,2.9,.62,3,.7,2.8,.75,2.6,.6,2.7,.3,2.6,.4,2.55,.55,2.55,.7,2.45,.2,2.3,.3,2.25,.5,2.3,.65,2.25,.8,2.25,.75,3.3,.8,3.6,.6,3.7,.5,3.6,.7,3.9,.8,4,.55,4,.42,3.65,.4,3.4,.55,1.5,.6,1.2,.7,1.4,.72,1.05,.62,.75,.55,.6,.5,.45,.42,.35,.3,.2,.2,.15,.72,.95,-.95,.9,-.9,.8,-.85,.7,-.7,.85,-.6,.95,-.55,.9,-.45,1.25,-.35,1.45,-.25,1.7,-.15,1.85,-1.05,.6,-1.03,.35,-1,.15,-1.1,.45];
const trem2Fringe = [-.9,.75,-.8,.8,-.75,.75,-.65,.85,-.55,.95,-.45,1,-.4,1.25,-.3,1.6,-.25,1.55,-.2,1.75,-.1,1.85,-.05,1.95,.05,2.05,.12,2.15,.2,2.2,.3,2.3,.68,1.8,.72,1.6,.75,1.35,.7,1.2,.68,.95,.6,.9,.55,.7,.45,.55,.38,.4,.25,.25,.12,.05,-.95,.2,-.98,.45,-1,.55,-1.05,.25,-.88,.9,-.72,.95,.35,3.7,.45,3.85,.5,3.35,.58,3.55,.65,3.45,.72,3.5,.78,3.3,.85,3.4,.68,3.2,.35,2.9,.45,2.65,.62,2.55,.15,2.55,.25,2.8];
const trem2Runs = [4.07,.38,.63,3.85,.38,.86,3.56,.33,.88,3.15,.33,.88,2.42,.12,.86,2.1,-.07,.63,.67,-.97,-.63,3.3,.3,.82,2.75,.15,.8,2.25,0,.8,2.6,.2,.78,2.95,.3,.8];
const trem2Cloud = [-.97,.34,-.84,.6,-.63,.71,-.47,.87,-.3,1.48,-.13,1.68,.04,1.95,.21,2.05,.38,2.15,.55,1.88,.67,1.68,.63,1.28,.5,.87,.33,.54,.17,.13,.04,-.09,-.76,-.11,-.93,.13];

const cx3Black = [-2.94,.56,-2.54,.73,-2.15,.73,-1.92,.73,-2.29,1.08,-2.07,1.08,-1.88,1.08,-1.68,1.08,-1.68,1.27,-1.51,1.04,-1.25,1.15,-1.14,1.08,-1.05,1.18,-.8,1.27,-.59,1.27,-.32,1.28,-.66,1.72,-.31,1.77,-2.14,.39,-2.14,-.04,-1.89,0,-1.77,.06,-1.52,.12,-1.33,-.04,1.33,4.37,1.63,4.37,1.8,3.78,1.62,3.68,1.63,3.56,1.53,3.56,1.42,3.56,1.44,3.48,1.43,3.4,1.4,3.33,1.38,3.19,1.36,3.15,1.2,3.55,1.2,3.48,1.19,3.35,1,3.57,1.03,3.55,1.02,3.2,1,3.04,1.03,3,.73,2.8,1.72,2.8,1.8,2.8,2.12,2.8,1.05,2.6,1.1,2.6,1.4,2.65,1.37,2.58,1.28,2.5,1,2.47,1,2.4,1.05,2.35,.25,2.39,.37,2.39,.61,2.39,.85,2.31,.9,2.33,1.11,2.2,1.17,2.23,1.56,2.3,1.56,2.2,1.59,2.14,1.67,2.1,1.82,2.1,.37,2.23,.43,2.14,.4,1.97,.95,1.9,1.45,1.9,.55,1.6,.6,1.55,.7,1.55,.8,1.55,.05,1.6,.1,1.6,.2,1.6,.3,1.65,.35,1.75,.2,1.77,.25,1.77,.45,1.5,1.2,1.67,1.1,1.8,1,1.75,1.25,1.43,1.3,1.43,1.45,1.43,1.55,1.43,1.62,1.43,1.7,1.27,1.18,1.27,1.2,1.1,1.45,.93,1.35,.82,1.55,.8,1.55,.75,2.05,.77,2.25,.77,1.23,.75,1.2,.7,1.1,.55,1.22,.5,1.12,.43,1.3,.5,1.38,.25,1.45,.1,1.2,.24,.9,.45,.85,.35,.8,.2,.75,.1,.6,.05,.75,.02,.8,.25,.55,.3,.1,1,.2,1.05,.3,1,.35,.9,.45,1,.55,1.05,.6,.9,.65,1,.75,1.1,.85,.95,.9,1,.95,.85,.4,1.2,.55,1.3,.65,1.25,.7,1.33,.5,.85,.6,.8,.3,.85,-.1,.95,-.2,.9,-.3,.85,-.4,.9,-.5,.95,-.45,.7,-.55,.75,-.6,.6,-1,.95,-.95,.85,-1,.78,-.9,.75,-.85,.65,-.95,.6,-1.1,.7,-1.2,.72,-1.3,.73,-.8,.55,-1.45,.45,-1.5,.4,-1.55,.35,-1.45,.2,-1.35,.3,-1.25,.25,-1.22,.12,-1.15,.05,-1.28,.6,-1.3,.55,-1.7,.6,-1.72,.55,-1.6,.55];
const cx3Fringe = [-.1,.75,-.4,.6,-.2,.7,0,.8,.1,.85,.3,.75,.45,.8,.62,.7,.7,.6,.75,.5,.65,.4,.55,.2,.7,.3,.85,.25,.95,.15,.6,.12,.5,.05,-1.25,.4,-1.3,.15,-1.1,.3,-.95,.5,-.85,.45,-.7,.45,-.6,.5];
const cx3Runs = [.56,-1.34,-.72,.41,-1.31,-.54,.65,-.6,-.07,.77,.05,1.08,1.17,-.25,.7,1.43,.34,1.05,1.77,.37,.82,2.1,.52,1.44,1.97,.4,1.38,2.8,.88,1.47,.91,-1.79,-1.31,.73,-1.74,-1.58,.73,-1.49,-.96,.24,.25,.75,.3,-1.2,.6,.14,-1.15,.5,.05,-1.1,.4,.48,-.9,-.4,.85,.1,.5,.95,.25,.9,1.05,.3,.75,1.3,.45,.9,1.55,.5,.95,.6,-.3,.6,.65,.25,1.05];
const cx3Cloud = [-1.08,-.05,-1.2,.1,-.96,.29,-.49,.38,-.19,.62,.22,.71,.52,.65,.43,.41,.31,.23,.17,.04,.05,-.05];

/* ---------- heat maps: z-scores, columns Baseline WT, Baseline Cre, TAM WT, TAM Cre ---------- */
const monoPathways = ["Signaling by Rho Family GTPases","Integrin Signaling","Leukocyte Extravasation Signaling","Actin Cytoskeleton Signaling","RhoGDI Signaling","Fcg mediated Phagocytosis","EIF2 Signaling","Production of NOs and ROS in Mø","NFAT Regulation","Dendritic Cell Maturation"];
const monoZ = [
  [-4.6,-2.9,-.8,1.7],[-5.3,-3.4,-.9,2.2],[-3,-2.5,-.5,1.8],[-3.9,-1.4,.5,2.2],[2.5,1.7,.6,-1.4],
  [-1.8,-1.1,-1.1,2.1],[2.7,2.1,3.4,5.4],[-2.8,-2.1,-1.1,1.6],[-3.6,-2,-.7,2.1],[-3.8,-3.5,-1.7,2],
];
const trem2Pathways = ["Rac Signaling","Regulation of Actin-based Motility by Rho","Signaling by Rho Family GTPases","Integrin Signaling","Actin Cytoskeleton Signaling","ILK Signaling","Cdc42 Signaling","Fcg mediated Phagocytosis","TGF-β Signaling","EIF2 Signaling","Production of NOs and ROS in Mø","Acute Phase Response Signaling","mTOR Signaling","Phospholipase C Signaling","NfκB Signaling","p70S6K Signaling","Regulation of eIF4 and p70S6K Signaling","PPARa/RXRa Signaling","NFAT Regulationof the immune response","Dendritic Cell Maturation"];
const trem2Z = [
  [-3.7,-3.2,-.3,1],[-.8,-1.5,1.2,2.2],[-4.7,0,0,.3],[-4.4,0,-.3,0],[-2.7,-4.1,.9,.6],
  [-2.6,-3.3,-1,1.6],[-1.2,-1.7,1,1.3],[-1.6,-2.4,.8,1.2],[-3.4,-3.3,-2,0],[.9,-.2,1.8,4.8],
  [-3.3,-3.8,-.8,.9],[-3.2,-3.4,-2.3,-1],[-2.1,-2.7,-2.6,1.5],[-3.7,0,-1.4,.4],[0,0,-2.6,-1.7],
  [-3.3,-3.8,-2.5,1],[-1.6,-1.6,-1.2,.5],[.7,2.3,2.3,-.5],[-2,-2.3,.6,1.2],[-4.2,-4,-.2,1],
];
const cx3Pathways = ["Signaling by Rho Family GTPases","Integrin Signaling","ILK Signaling","Regulation of Actin-based Motility by Rho","RhoA Signaling","Actin Cytoskeleton Signaling","EIF2 Signaling","NRF2-mediated stress response","NFAT Regulation","Neuroinflammation Signaling pathway","Dendritic Cell Maturation"];
const cx3Z = [
  [-2.9,-2.9,1.9,1.7],[-3.4,-2.7,1.7,1.5],[-1,-1.7,2.1,1.6],[-.3,-.5,1.9,1.6],[-.2,.3,2.3,2.2],[-1.8,-.7,1.8,.9],
  [2.8,3.4,4,5],[-1.4,0,1.5,1.5],[-2.9,-.2,1.9,2.1],[-3.5,-3.2,1.8,2],[-3.6,-1.9,1.5,2.1],
];
const stripColors = ["#F7931E", "#2E9E48", "#F7931E", "#2E9E48"];

/* ---------- layout ---------- */
const FONT = "'Liberation Sans', Arial, sans-serif";
const INK = "#111";
/* horizontal placement in the right-hand column */
const rx = (x: number) => (x > 1020 ? 1020 + (x - 1020) * .99488 : x);

const pairs = (a: number[]) => { const o: any[] = []; for (let i = 0; i < a.length; i += 2) o.push({ x: a[i], y: a[i + 1] }); return o; };
const runsOf = (a: number[]) => { const o: any[] = []; for (let i = 0; i < a.length; i += 3) { o.push({ x: a[i + 1], y: a[i] }, { x: a[i + 2], y: a[i] }, { x: NaN, y: NaN }); } return o; };

const polygonPlugin = {
  id: "polygonFill",
  beforeDatasetDraw(chart: any, args: any) {
    const ds = chart.data.datasets[args.index];
    if (!ds.polygonFill) return;
    const pts = args.meta.data, c = chart.ctx;
    c.save(); c.beginPath();
    pts.forEach((p: any, i: number) => (i ? c.lineTo(p.x, p.y) : c.moveTo(p.x, p.y)));
    c.closePath(); c.fillStyle = ds.polygonFill; c.fill(); c.restore();
  },
};
const frameOutline = {
  id: "frameOutline",
  afterDatasetsDraw(chart: any, _a: any, opts: any) {
    if (!opts.color) return;
    const { left, top, width, height } = chart.chartArea, c = chart.ctx;
    c.save(); c.strokeStyle = opts.color; c.lineWidth = 1; c.strokeRect(left + .5, top + .5, width - 1, height - 1); c.restore();
  },
};
Chart.register(polygonPlugin, frameOutline);

const noPad = (s: any) => { s.paddingLeft = s.paddingRight = s.paddingTop = s.paddingBottom = 0; };
const fixedX = (h: number) => (s: any) => { s.height = h; noPad(s); };
const fixedY = (w: number) => (s: any) => { s.width = w; noPad(s); };

function base(box: number[], ml: number, mb: number, mt = 8, mr = 10) {
  const [l, t, r, b] = box;
  return {
    left: l - ml, top: t - mt, width: r - l + ml + mr, height: b - t + mt + mb,
    layout: { autoPadding: false, padding: { top: mt, right: mr, left: 0, bottom: 0 } },
    ml, mb,
  };
}

type Violin = { box: number[]; y: number[]; ticks: number[]; profiles: number[][]; dots: number[][]; zero: number[] };

function violinSpec(v: Violin) {
  const g = base(v.box, 62, 100);
  const datasets: any[] = [];
  v.dots.forEach((d, c) => {
    datasets.push({ data: pairs(d).map(p => ({ x: c + 1 + p.x, y: p.y })), pointRadius: 1.4, pointBackgroundColor: "#000", pointBorderWidth: 0, showLine: false });
  });
  for (let c = 0; c < 3; c++) {
    datasets.push({ data: [{ x: c + 1 + v.zero[c * 2], y: 0 }, { x: c + 1 + v.zero[c * 2 + 1], y: 0 }], showLine: true, borderColor: "#000", borderWidth: 2.6, pointRadius: 0 });
  }
  v.profiles.forEach((p, c) => {
    const rows = pairs(p);
    const right = rows.map(r => ({ x: c + 1 + r.y, y: r.x }));
    const left = rows.slice().reverse().map(r => ({ x: c + 1 - r.y, y: r.x }));
    datasets.push({ data: [...right, ...left, right[0]], showLine: true, borderColor: "#555", borderWidth: .9, pointRadius: 0, tension: 0, polygonFill: violinColors[c] });
  });
  return {
    ...g,
    config: {
      type: "scatter",
      data: { datasets },
      options: {
        animation: false, responsive: false, devicePixelRatio: 1, layout: g.layout,
        plugins: { legend: { display: false }, tooltip: { enabled: false } },
        scales: {
          x: {
            type: "linear", min: .4, max: 3.6, afterFit: fixedX(g.mb),
            afterBuildTicks: (s: any) => { s.ticks = [1, 2, 3].map(value => ({ value })); },
            ticks: { callback: (n: number) => violinGroups[n - 1], minRotation: 45, maxRotation: 45, autoSkip: false, padding: -3, labelOffset: 4, color: INK, font: { family: FONT, size: 18 } },
            grid: { drawOnChartArea: false, tickLength: 4, tickColor: "#666" }, border: { color: "#666", width: 1 },
          },
          y: {
            type: "linear", min: v.y[0], max: v.y[1], afterFit: fixedY(g.ml),
            afterBuildTicks: (s: any) => { s.ticks = v.ticks.map(value => ({ value })); },
            ticks: { callback: (n: number) => String(n), autoSkip: false, padding: 5, color: INK, font: { family: FONT, size: 18 } },
            grid: { drawOnChartArea: false, tickLength: 4, tickColor: "#666" }, border: { color: "#666", width: 1 },
          },
        },
      },
    },
  };
}

const violinCharts: Violin[] = [
  { box: [71, 76, 192, 314], y: [-.19, 3.975], ticks: [0, 1, 2, 3], profiles: [ly6c2Spike1, ly6c2Spike2, ly6c2Mono], dots: [ly6c2Dots1, ly6c2Dots2, ly6c2Dots3], zero: ly6c2Zero },
  { box: [224, 68, 321, 313], y: [-.24, 5.12], ticks: [0, 1, 2, 3, 4, 5], profiles: [chil3Spike1, chil3Spike2, chil3Mono], dots: [chil3Dots1, chil3Dots2, chil3Dots3], zero: chil3Zero },
  { box: [367.3, 74, 488.7, 312], y: [-.24, 4.99], ticks: [0, 1, 2, 3, 4], profiles: [cebpbT, cebpbC, cebpbM], dots: [cebpbDots1, cebpbDots2, cebpbDots3], zero: cebpbZero },
  { box: [73.7, 498, 191.3, 750], y: [-.2, 4.06], ticks: [0, 1, 2, 3, 4], profiles: [trem2T, trem2C, trem2Spike], dots: [trem2Dots1, trem2Dots2, trem2Dots3], zero: trem2Zero },
  { box: [229.7, 501.7, 326.7, 746.7], y: [-.28, 5.97], ticks: [0, 2, 4], profiles: [c1qcT, c1qcC, c1qcM], dots: [c1qcDots1, c1qcDots2, c1qcDots3], zero: c1qcZero },
  { box: [363.7, 510, 485.3, 747.3], y: [-.26, 5.34], ticks: [0, 1, 2, 3, 4, 5], profiles: [sepp1T, sepp1C, sepp1M], dots: [sepp1Dots1, sepp1Dots2, sepp1Dots3], zero: sepp1Zero },
  { box: [75.7, 905, 196.7, 1153.3], y: [-.18, 3.89], ticks: [0, 1, 2, 3], profiles: [cx3T, cx3Spike, cx3M], dots: [cx3Dots1, cx3Dots2, cx3Dots3], zero: cx3Zero },
  { box: [227.7, 914, 346.7, 1152], y: [-.21, 4.52], ticks: [0, 1, 2, 3, 4], profiles: [lplSpike1, lplC, lplSpike3], dots: [lplDots1, lplDots2, lplDots3], zero: lplZero },
  { box: [369.7, 905, 486, 1154.7], y: [-.27, 5.78], ticks: [0, 2, 4], profiles: [ccl6T, ccl6C, ccl6M], dots: [ccl6Dots1, ccl6Dots2, ccl6Dots3], zero: ccl6Zero },
];

type Volcano = { box: number[]; x: number[]; y: number[]; xt: number[]; yt: number[]; yFmt?: (n: number) => string; h: number; blue?: number[]; blueRuns?: number[]; black: number[]; fringe: number[]; runs: number[]; cloud: number[] };

function volcanoSpec(v: Volcano) {
  const g = base(v.box, 50, 30);
  const line = (data: any[]) => ({ data, showLine: true, borderColor: "#000", borderWidth: 1.7, borderDash: [13, 8], pointRadius: 0 });
  const dots = (a: number[], color: string) => ({ data: pairs(a), pointRadius: 1.7, pointBackgroundColor: color, pointBorderWidth: 0, showLine: false });
  const run = (a: number[], color: string) => ({ data: runsOf(a), showLine: true, spanGaps: false, borderColor: color, borderWidth: 2.6, pointRadius: 0 });
  const datasets: any[] = [
    line([{ x: v.x[0], y: v.h }, { x: v.x[1], y: v.h }]),
    line([{ x: -1, y: v.y[1] }, { x: -1, y: v.y[0] }]),
    line([{ x: 1, y: v.y[1] }, { x: 1, y: v.y[0] }]),
  ];
  if (v.blue) datasets.push(dots(v.blue, "#0a14f0"));
  if (v.blueRuns) datasets.push(run(v.blueRuns, "#0a14f0"));
  datasets.push(dots(v.black, "#000"), dots(v.fringe, "#000"), run(v.runs, "#000"));
  datasets.push({ data: pairs(v.cloud), showLine: false, pointRadius: 0, polygonFill: "#000" });
  return {
    ...g,
    config: {
      type: "scatter",
      data: { datasets },
      options: {
        animation: false, responsive: false, devicePixelRatio: 1, layout: g.layout,
        plugins: { legend: { display: false }, tooltip: { enabled: false } },
        scales: {
          x: {
            type: "linear", min: v.x[0], max: v.x[1], afterFit: fixedX(g.mb),
            afterBuildTicks: (s: any) => { s.ticks = v.xt.map(value => ({ value })); },
            ticks: { callback: (n: number) => String(n).replace("-", "−"), autoSkip: false, maxRotation: 0, padding: 2, color: INK, font: { family: FONT, size: 19 } },
            grid: { display: false, drawTicks: false }, border: { color: "#000", width: 2 },
          },
          y: {
            type: "linear", min: v.y[0], max: v.y[1], afterFit: fixedY(g.ml),
            afterBuildTicks: (s: any) => { s.ticks = v.yt.map(value => ({ value })); },
            ticks: { callback: v.yFmt || ((n: number) => String(n)), autoSkip: false, padding: 4, color: INK, font: { family: FONT, size: 19 } },
            grid: { display: false, drawTicks: false }, border: { color: "#000", width: 2 },
          },
        },
      },
    },
  };
}

const volcanoCharts: Volcano[] = [
  { box: [619, 45, 936.7, 311], x: [-2.7, 3.88], y: [-1.03, 15.06], xt: [-2, 0, 2], yt: [0, 5, 10, 15], h: 1.71, blue: monoBlue, blueRuns: monoBlueRuns, black: monoBlack, fringe: monoFringe, runs: monoBlackRuns, cloud: monoCloud },
  { box: [620.7, 476.7, 933.3, 741.7], x: [-1.72, 2.23], y: [-.54, 10.13], xt: [-1, 0, 1, 2], yt: [0, 2.5, 5, 7.5, 10], yFmt: (n: number) => n.toFixed(1), h: 1.95, blue: trem2Blue, black: trem2Black, fringe: trem2Fringe, runs: trem2Runs, cloud: trem2Cloud },
  { box: [620.7, 888.3, 940.7, 1153.3], x: [-3.2, 2.49], y: [-.26, 4.58], xt: [-3, -2, -1, 0, 1, 2], yt: [0, 1, 2, 3, 4], h: 1.96, black: cx3Black, fringe: cx3Fringe, runs: cx3Runs, cloud: cx3Cloud },
];

const mix = (t: number, to: number[]) => {
  const k = Math.min(1, Math.abs(t));
  return `rgb(${to.map(c => Math.round(255 + (c - 255) * k)).join(",")})`;
};
const RED = [255, 38, 0], BLUE = [0, 38, 255];
const zColor = (z: number, lo: number, hi: number) => (z >= 0 ? mix(z / hi, RED) : mix(z / lo, BLUE));
const rBox = (b: number[]) => [rx(b[0]), b[1], rx(b[2]), b[3]];

function heatSpec(box: number[], labels: string[], z: number[][], lo: number, hi: number, labelGap: number) {
  const g = base(rBox(box), 370, 2, 2, 4);
  const datasets = [0, 1, 2, 3].map(c => ({
    data: z.map(() => 1),
    backgroundColor: z.map(r => zColor(r[c], lo, hi)),
    borderWidth: 0, barPercentage: 1, categoryPercentage: 1,
  }));
  return {
    ...g,
    config: {
      type: "bar",
      data: { labels, datasets },
      options: {
        indexAxis: "y", animation: false, responsive: false, devicePixelRatio: 1,
        layout: { autoPadding: false, padding: { top: 2, right: 4, left: 0, bottom: 2 } },
        plugins: { legend: { display: false }, tooltip: { enabled: false }, frameOutline: { color: "#444" } },
        scales: {
          x: { type: "linear", stacked: true, min: 0, max: 4, display: false },
          y: {
            type: "category", stacked: true, afterFit: fixedY(g.ml),
            ticks: { autoSkip: false, padding: labelGap, color: INK, font: { family: FONT, size: 18 } },
            grid: { display: false, drawTicks: false }, border: { display: false },
          },
        },
      },
    },
  };
}

function stripSpec(box: number[]) {
  const g = base(rBox(box), 2, 2, 2, 2);
  const datasets = stripColors.map(c => ({ data: [1], backgroundColor: c, borderWidth: 0, barPercentage: 1, categoryPercentage: 1 }));
  return {
    ...g,
    config: {
      type: "bar",
      data: { labels: [""], datasets },
      options: {
        indexAxis: "y", animation: false, responsive: false, devicePixelRatio: 1, layout: { autoPadding: false, padding: { top: 2, right: 2, left: 2, bottom: 2 } },
        plugins: { legend: { display: false }, tooltip: { enabled: false } },
        scales: { x: { type: "linear", stacked: true, min: 0, max: 4, display: false }, y: { type: "category", stacked: true, display: false } },
      },
    },
  };
}

function barSpec(box: number[], lo: number, hi: number, white: number, ticks: number[]) {
  const [l, t, r, b] = rBox(box);
  const left = l - 2, top = t - 2, width = r - l + 44, height = b - t + 4;
  return {
    left, top, width, height,
    config: {
      type: "bar",
      data: {
        labels: [""],
        datasets: [{
          data: [[lo, hi]],
          borderColor: "#222", borderWidth: 1, borderSkipped: false, barPercentage: 1, categoryPercentage: 1,
          backgroundColor: (ctx: any) => {
            const y = ctx.chart.scales.y;
            if (!y) return "#fff";
            const a = y.getPixelForValue(hi), e = y.getPixelForValue(lo);
            if (!Number.isFinite(a) || !Number.isFinite(e) || a === e) return "#fff";
            const gr = ctx.chart.ctx.createLinearGradient(0, a, 0, e);
            gr.addColorStop(0, "rgb(255,38,0)");
            gr.addColorStop((y.getPixelForValue(white) - a) / (e - a), "#fff");
            gr.addColorStop(1, "rgb(0,38,255)");
            return gr;
          },
        }],
      },
      options: {
        animation: false, responsive: false, devicePixelRatio: 1,
        layout: { autoPadding: false, padding: { top: 2, bottom: 2, left: 2, right: 0 } },
        plugins: { legend: { display: false }, tooltip: { enabled: false } },
        scales: {
          x: { display: false },
          y: {
            type: "linear", position: "right", min: lo, max: hi, afterFit: fixedY(42),
            afterBuildTicks: (s: any) => { s.ticks = ticks.map(value => ({ value })); },
            ticks: { callback: (n: number) => String(n), autoSkip: false, padding: 3, color: INK, font: { family: FONT, size: 18 } },
            grid: { drawOnChartArea: false, tickLength: 3, tickColor: "#333" }, border: { display: false },
          },
        },
      },
    },
  };
}

const specs: any[] = [
  ...violinCharts.map(violinSpec),
  ...volcanoCharts.map(volcanoSpec),
  heatSpec([1484, 79, 1710, 366], monoPathways, monoZ, -5.5, 5.5, 5),
  heatSpec([1487, 475, 1715, 818], trem2Pathways, trem2Z, -5, 5, 17),
  heatSpec([1482.5, 933, 1710, 1230], cx3Pathways, cx3Z, -3.6, 5, 10),
  stripSpec([1484, 68, 1710, 78]),
  stripSpec([1487, 463, 1715, 473]),
  stripSpec([1482.5, 921, 1710, 931]),
  barSpec([1749, 156, 1766, 351], -5.2, 6, -.45, [-5, 0, 5]),
  barSpec([1751, 554, 1768.5, 750], -5.03, 5.03, 0, [-4, -2, 0, 2, 4]),
  barSpec([1748, 1013, 1770, 1202], -3.5, 5.09, 0, [-2, 0, 2, 4]),
];

function ChartCanvas({ spec }: any) {
  const ref = useRef<HTMLCanvasElement>(null);
  useEffect(() => {
    const c = new Chart(ref.current as any, spec.config);
    return () => c.destroy();
  }, [spec]);
  return <canvas ref={ref} width={spec.width} height={spec.height} style={{ position: "absolute", left: spec.left, top: spec.top, width: spec.width, height: spec.height }} />;
}

/* ---------- text and annotation helpers ---------- */
function T({ x, y, a = "l", size = 18, bold, color = INK, rot, children }: any) {
  const tx = a === "l" ? 0 : a === "c" ? -50 : -100;
  return (
    <div style={{ position: "absolute", left: rx(x), top: y, transform: `translate(${tx}%,-50%)${rot ? ` rotate(${rot}deg)` : ""}`, fontSize: size, fontWeight: bold ? 700 : 400, color, whiteSpace: "nowrap", lineHeight: 1.1 }}>
      {children}
    </div>
  );
}
const Sup = ({ children, s = .6, up = .65 }: any) => <span style={{ fontSize: `${s}em`, verticalAlign: `${up}em`, lineHeight: 0 }}>{children}</span>;

const Bracket = ({ x, end, top, bot, stubY, stubX }: any) => (
  <path d={`M${rx(end)} ${top}H${rx(x)}V${bot}H${rx(end)}M${rx(x)} ${stubY}H${rx(stubX)}`} fill="none" stroke="#222" strokeWidth={1.3} />
);

function Legend({ x, tx, y1, y2, w }: any) {
  return (
    <>
      <div style={{ position: "absolute", left: rx(x), top: y1, width: w, height: 13, background: "#F7931E", border: "1.5px solid #444", boxSizing: "border-box" }} />
      <div style={{ position: "absolute", left: rx(x), top: y2, width: w, height: 14, background: "#2E9E48", border: "1.5px solid #333", boxSizing: "border-box" }} />
      <T x={tx} y={y1 + 7}>Ntn1<Sup>fl/fl</Sup>Cx3cr1<Sup>WT</Sup></T>
      <T x={tx} y={y2 + 7}>Ntn1<Sup>fl/fl</Sup>Cx3cr1<Sup s={.62}>CreERT2+</Sup></T>
    </>
  );
}

function DiffArrow({ id, l, m, r, y }: any) {
  return (
    <>
      <defs>
        <linearGradient id={id} gradientUnits="userSpaceOnUse" x1={l} x2={r} y1={y} y2={y}>
          <stop offset="0" stopColor="#0a14f0" />
          <stop offset={(m - l) / (r - l)} stopColor="#0a14f0" />
          <stop offset={(m - l + 8) / (r - l)} stopColor="#f0203a" />
          <stop offset="1" stopColor="#f0102a" />
        </linearGradient>
      </defs>
      <rect x={l + 3} y={y - 1} width={r - l - 6} height={2} fill={`url(#${id})`} />
      <path d={`M${l} ${y}l7 -3.5v7z`} fill="#0a14f0" />
      <path d={`M${r} ${y}l-7 -3.5v7z`} fill="#f0102a" />
    </>
  );
}

const DiffText = ({ xd, xu, y }: any) => (
  <>
    <T x={xd} y={y} size={18}>down in Mø<Sup s={.72} up={.45}>ΔNtn1</Sup></T>
    <T x={xu} y={y} size={18}>up in&nbsp; Mø<Sup s={.72} up={.45}>ΔNtn1</Sup></T>
  </>
);

const BLUE_TEXT = "#0a14f0";
const leaders = [
  [823,332,848,352,0],[888,390,915,365,0],[910,408,935,408,0],[848,475,875,452,0],
  [1018,360,1021,388,420],[925,393,945,410,420],[1050,395,1073,395,420],[868,440,888,458,420],[1000,460,1022,460,420],[885,490,908,490,420],[972,495,1000,517,420],[975,540,993,555,420],[565,650,565,680,420],[543,680,545,703,420],
];
const Y = ({ x, y, children }: any) => <T x={x} y={y} a="c" size={19} rot={-90}>{children}</T>;

export default function App() {
  useEffect(() => { document.body.style.margin = "0"; }, []);
  return (
    <div style={{ position: "relative", width: 1800, height: 1234, overflow: "hidden", background: "#fff", fontFamily: FONT }}>
      {specs.map((s, i) => <ChartCanvas key={i} spec={s} />)}

      <svg width={1800} height={1234} style={{ position: "absolute", left: 0, top: 0, pointerEvents: "none" }}>
        {leaders.map((l, i) => <line key={i} x1={l[0] / 3 + 520} y1={l[1] / 3 + l[4]} x2={l[2] / 3 + 520} y2={l[3] / 3 + l[4]} stroke="#222" strokeWidth={.9} />)}
        <DiffArrow id="ga" l={640.7} m={744} r={850} y={359.7} />
        <DiffArrow id="gb" l={649.3} m={751.7} r={874} y={792.7} />
        <DiffArrow id="gc" l={695} m={798.3} r={920} y={1203} />
        <Bracket x={1192.5} end={1208} top={82.7} bot={224} stubY={154} stubX={1180} />
        <Bracket x={1192.5} end={1208} top={230} bot={243} stubY={236.7} stubX={1180} />
        <Bracket x={1192.5} end={1208} top={249} bot={301.7} stubY={275.7} stubX={1180} />
        <Bracket x={1192.5} end={1208} top={306.7} bot={360} stubY={333} stubX={1180} />
        <Bracket x={1130} end={1146.5} top={473} bot={589} stubY={531} stubX={1118.5} />
        <Bracket x={1130} end={1146.5} top={589} bot={605} stubY={597} stubX={1118.5} />
        <Bracket x={1130} end={1146.5} top={605.5} bot={620.7} stubY={613} stubX={1118.5} />
        <Bracket x={1130} end={1146.5} top={620.7} bot={765.7} stubY={688} stubX={1118.5} />
        <Bracket x={1130} end={1146.5} top={766} bot={815.7} stubY={794} stubX={1118.5} />
        <Bracket x={1133} end={1150} top={933} bot={1090} stubY={1011.7} stubX={1120} />
        <Bracket x={1133} end={1150} top={1092} bot={1148} stubY={1120.7} stubX={1120} />
        <Bracket x={1133} end={1150} top={1149} bot={1226.7} stubY={1188} stubX={1116} />
      </svg>

      {/* panel letters */}
      {[["A",3,20],["B",537,19],["C",1016,20],["D",4,417],["E",537,417],["F",1016,418],["G",4,862],["H",537,862],["I",1017,862]].map(([l, x, y]: any) => <T key={l} x={x} y={y} size={24} bold color="#000">{l}</T>)}

      {/* violin gene titles */}
      {[["Ly6c2",139,58],["Chil3",281.7,58],["Cebpb",436,58],["Trem2",129,481],["C1qc",281,481],["Sepp1",426,481],["Cx3cr1",146,889],["Lpl",292,889],["Ccl6",434,889]].map(([l, x, y]: any) => <T key={l} x={x} y={y} a="c">{l}</T>)}
      <Y x={18} y={205}>Log-transformed normalized</Y>
      <Y x={35} y={202}>gene expression</Y>
      <Y x={18} y={625}>Log-transformed normalized</Y>
      <Y x={35} y={622}>gene expression</Y>
      <Y x={18} y={1058}>Log-transformed normalized</Y>
      <Y x={35} y={1055}>gene expression</Y>

      {/* volcano B */}
      <T x={628} y={24} bold size={19}>Monocytes</T>
      <Y x={575} y={172.5}>−log10 p value</Y>
      <T x={753.7} y={343} a="c" size={18.5}>log2 Fold Change</T>
      <DiffText xd={601} xu={766.7} y={380} />
      <T x={816.7} y={96} color={BLUE_TEXT}>Hacd4</T>
      <T x={748.3} y={107} color={BLUE_TEXT}>Lpin1</T>
      <T x={830} y={120} color={BLUE_TEXT}>Lcn2</T>
      <T x={839} y={136.7} color={BLUE_TEXT}>Cd72</T>
      <T x={815} y={153} color={BLUE_TEXT}>Il4ra</T>
      <T x={816.7} y={202}>Tgfb1</T>

      {/* volcano E */}
      <T x={635} y={452} bold size={20}>Trem2<Sup s={.6} up={.9}>hi</Sup>&nbsp;Mø</T>
      <Y x={561.7} y={593}>−log10 p value</Y>
      <T x={758.5} y={773} a="c" size={18.5}>log2 fold change</T>
      <DiffText xd={611.7} xu={782} y={810.7} />
      <T x={857} y={530.7} color={BLUE_TEXT}>Lyl1</T>
      <T x={793.3} y={545} color={BLUE_TEXT}>Klf6</T>
      <T x={879} y={549.3} color={BLUE_TEXT}>Ucp2</T>
      <T x={748.7} y={563.3} color={BLUE_TEXT}>Eef1a1</T>
      <T x={862.3} y={575} color={BLUE_TEXT}>Ctsl</T>
      <T x={773.3} y={585} color={BLUE_TEXT}>Ninj1</T>
      <T x={854.3} y={590.7} color={BLUE_TEXT}>Csf1r</T>
      <T x={853.3} y={606} color={BLUE_TEXT}>Foxp1</T>
      <T x={684} y={609}>Ubb</T>
      <T x={700} y={626.7}>S100a8</T>
      <T x={640} y={637.3}>S100a9</T>

      {/* volcano H */}
      <T x={635} y={872} bold size={20}>Cx3cr1<Sup s={.75} up={.35}>−</Sup>&nbsp;Mø</T>
      <Y x={580} y={1029}>-log10 p-value</Y>
      <T x={796} y={1186.7} a="c" size={18.5}>log2 fold change</T>
      <DiffText xd={639.3} xu={825} y={1219} />
      <T x={801.7} y={892.3}>Hnrnpa1</T>
      <T x={897.7} y={900.7}>Grb2</T>

      {/* heat map C */}
      <T x={1349.5} y={46} a="c" bold size={19.5}>Monocytes</T>
      <Legend x={1486} tx={1510} y1={4} y2={25} w={18} />
      <T x={1544} y={56} a="c">Baseline</T>
      <T x={1652.5} y={56} a="c">TAM + chow</T>
      <T x={1733.5} y={142.7}>Z-score</T>
      <T x={1175} y={147} a="r">cell motility</T>
      <T x={1175} y={169} a="r">migration</T>
      <T x={1175} y={237} a="r">phagocytosis</T>
      <T x={1169.5} y={271.7} a="r">stress</T>
      <T x={1175} y={293} a="r">response</T>
      <T x={1175} y={321} a="r">immune cell</T>
      <T x={1175} y={343} a="r">priming</T>

      {/* heat map F */}
      <T x={1351} y={445} a="c" bold size={19.5}>Trem2<Sup up={.75}>hi</Sup>&nbsp;Mø</T>
      <Legend x={1487} tx={1510.5} y1={396} y2={418} w={18} />
      <T x={1551} y={453} a="c">Baseline</T>
      <T x={1659.5} y={453} a="c">TAM + chow</T>
      <T x={1737} y={540.7}>Z-score</T>
      <T x={1122} y={526} a="r">cell motility</T>
      <T x={1113.5} y={543} a="r">migration</T>
      <T x={1113} y={594} a="r">phagocytosis</T>
      <T x={1113.5} y={612.7} a="r">TGF-β signaling</T>
      <T x={1101.5} y={682.7} a="r">stress</T>
      <T x={1106.5} y={700} a="r">response</T>
      <T x={1110} y={799} a="r">immune cell</T>
      <T x={1110} y={814} a="r">priming</T>

      {/* heat map I */}
      <T x={1359.5} y={897} a="c" bold size={20}>Cx3cr1<Sup s={.75} up={.35}>−</Sup>&nbsp;Mø</T>
      <Legend x={1473} tx={1497.5} y1={853} y2={874} w={19} />
      <T x={1543} y={909} a="c">Baseline</T>
      <T x={1651} y={909} a="c">TAM + chow</T>
      <T x={1737} y={997.7}>Z-score</T>
      <T x={1115} y={990.7} a="r">cell motility</T>
      <T x={1115} y={1012} a="r">migration</T>
      <T x={1110} y={1109} a="r">stress</T>
      <T x={1115} y={1131} a="r">response</T>
      <T x={1115} y={1180} a="r">immune cell</T>
      <T x={1115} y={1201.7} a="r">priming</T>
    </div>
  );
}
